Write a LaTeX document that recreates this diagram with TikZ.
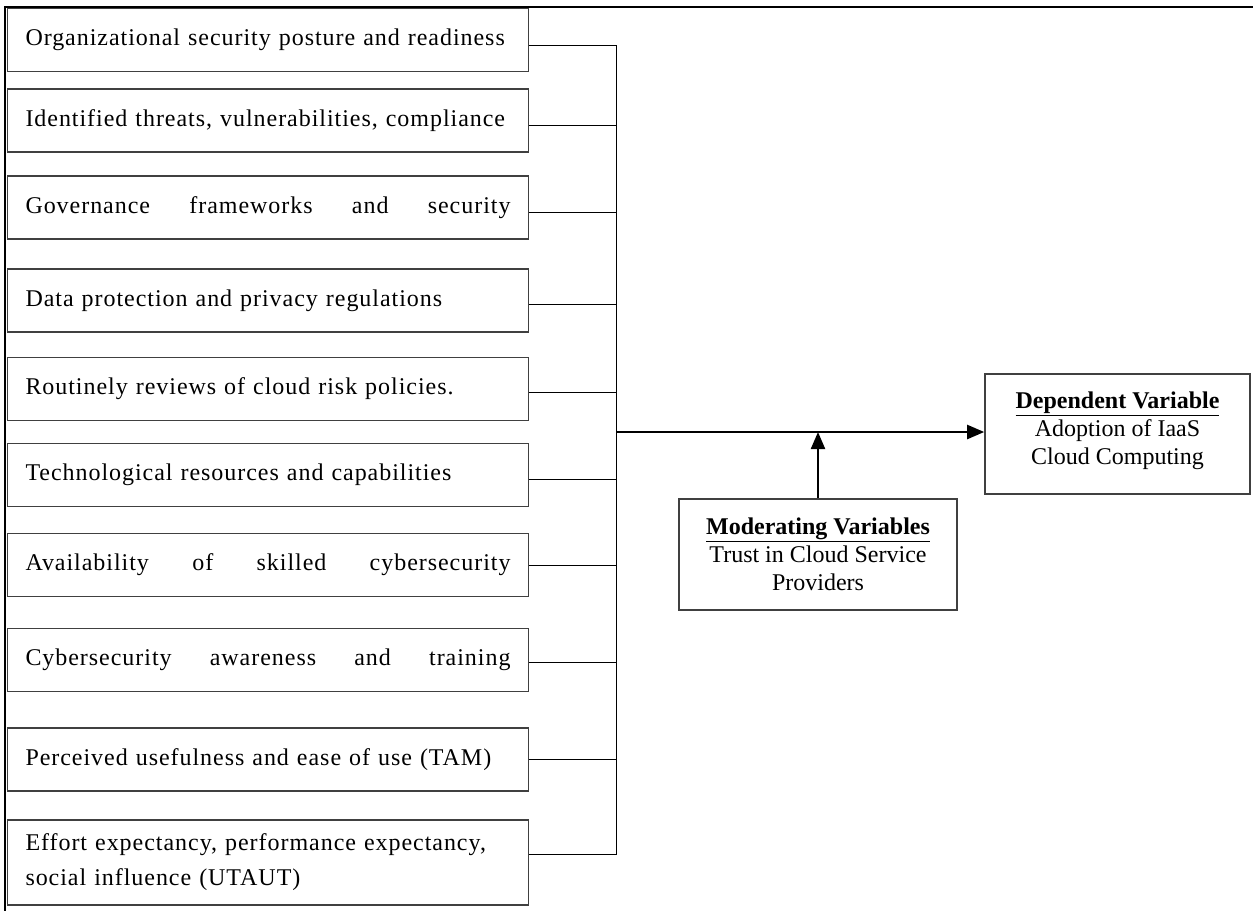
\documentclass[tikz,border=0pt]{standalone}
\usepackage{fontspec}
\setmainfont{Liberation Serif}
\newfontfamily\boxfont[LetterSpace=4]{Liberation Serif}
\usetikzlibrary{arrows.meta}
\newcommand{\spreadline}[1]{\hbox to 485pt{#1}}
\tikzset{
    var-box/.style = {draw=black!75, line width=1.6pt, rectangle, text width=485pt, inner xsep=18pt, inner ysep=0pt, minimum height=63pt, align=left, font=\boxfont\fontsize{24}{35}\selectfont},
    side-box/.style = {draw=black!75, line width=1.6pt, rectangle, align=center, inner sep=0pt, font=\fontsize{24}{28}\selectfont},
    link/.style = {draw=black, line width=1pt},
    main-arrow/.style = {draw=black, line width=2.2pt, -{Triangle[length=17pt,width=14pt]}},
}

\begin{document}
\begin{tikzpicture}[x=1pt,y=-1pt]
\useasboundingbox (0,0) rectangle (1253,911);
\draw[line width=2pt] (1253,7) -- (5,7) -- (5,911);

% independent variables
\node[var-box] (posture) at (268,40) {Organizational security posture and readiness};
\node[var-box] (threats) at (268,120.5) {Identified threats, vulnerabilities, compliance};
\node[var-box] (governance) at (268,207.5) {\spreadline{Governance\hfil frameworks\hfil and\hfil security}};
\node[var-box] (privacy) at (268,300.5) {Data protection and privacy regulations};
\node[var-box] (reviews) at (268,389) {Routinely reviews of cloud risk policies.};
\node[var-box] (resources) at (268,475) {Technological resources and capabilities};
\node[var-box] (skills) at (268,565) {\spreadline{Availability\hfil of\hfil skilled\hfil cybersecurity}};
\node[var-box] (awareness) at (268,660) {\spreadline{Cybersecurity\hfil awareness\hfil and\hfil training}};
\node[var-box] (tam) at (268,759.5) {Perceived usefulness and ease of use (TAM)};
\node[var-box, minimum height=85pt] (utaut) at (268,862.5) {Effort expectancy, performance expectancy,\\ social influence (UTAUT)};

% dependent and moderating variables
\node[side-box, minimum width=265pt, minimum height=120pt] (dependent) at (1117.5,434) {\underline{\textbf{Dependent Variable}}\\ Adoption of IaaS\\ Cloud Computing\\[-16pt]};
\node[side-box, minimum width=278pt, minimum height=111pt] (moderating) at (818,554.5) {\underline{\textbf{Moderating Variables}}\\ Trust in Cloud Service\\ Providers};

\coordinate (bus) at (616,432);

% links to the bus
\draw[link] ([yshift=-5pt]posture.east) -- ([yshift=-5pt]posture.east -| bus);
\draw[link] ([yshift=-5pt]threats.east) -- ([yshift=-5pt]threats.east -| bus);
\draw[link] ([yshift=-5pt]governance.east) -- ([yshift=-5pt]governance.east -| bus);
\draw[link] ([yshift=-4pt]privacy.east) -- ([yshift=-4pt]privacy.east -| bus);
\draw[link] ([yshift=-3pt]reviews.east) -- ([yshift=-3pt]reviews.east -| bus);
\draw[link] ([yshift=-4pt]resources.east) -- ([yshift=-4pt]resources.east -| bus);
\draw[link] (skills.east) -- (skills.east -| bus);
\draw[link] ([yshift=-2pt]awareness.east) -- ([yshift=-2pt]awareness.east -| bus);
\draw[link] (tam.east) -- (tam.east -| bus);
\draw[link] ([yshift=8pt]utaut.east) -- ([yshift=8pt]utaut.east -| bus);
\draw[link] ([yshift=-5pt]posture.east -| bus) -- ([yshift=8pt]utaut.east -| bus);

\draw[main-arrow] (bus) -- (bus -| dependent.west);
\draw[main-arrow] (moderating.north) -- (moderating.north |- bus);
\end{tikzpicture}
\end{document}
